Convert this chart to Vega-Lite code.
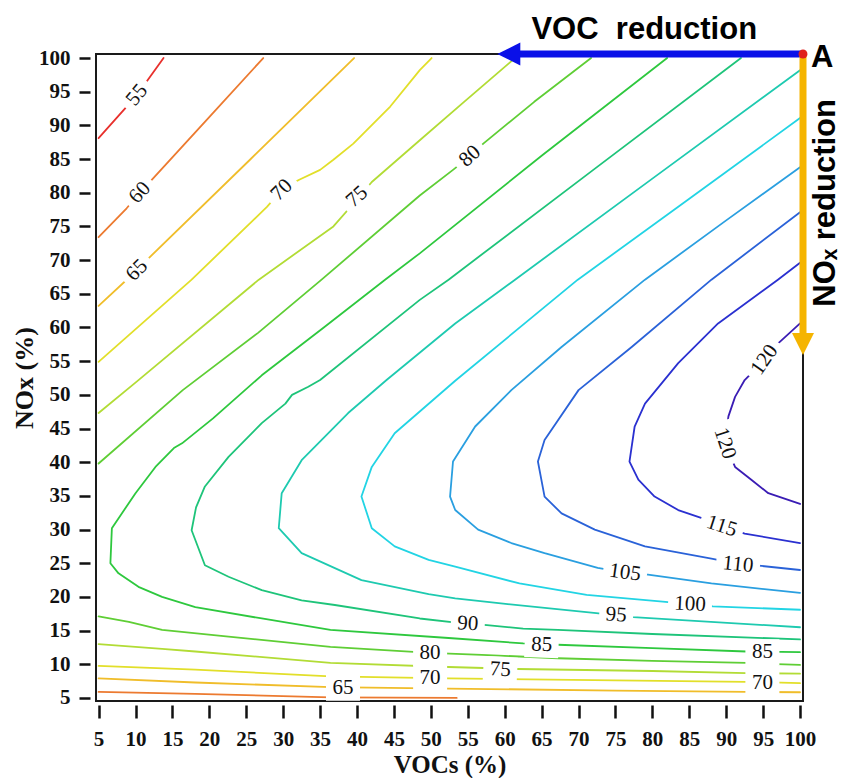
{
  "$schema": "https://vega.github.io/schema/vega-lite/v6.json",
  "width": 707,
  "height": 647,
  "autosize": {"type": "none"},
  "padding": {"left": 96, "top": 54, "right": 42, "bottom": 77},
  "background": "white",
  "config": {"view": {"stroke": "#1a1a1a", "strokeWidth": 2}, "font": "Liberation Serif"},
  "datasets": {
    "contours": [
      {"c":"55","v":55,"x":5,"y":88.1},{"c":"55","v":55,"x":7.6,"y":91.3},{"c":"55","v":55,"x":10.2,"y":94.5},{"c":"55","v":55,"x":13.8,"y":100},
      {"c":"60u","v":60,"x":5,"y":73.4},{"c":"60u","v":60,"x":8.8,"y":77.7},{"c":"60u","v":60,"x":10.6,"y":80.0},{"c":"60u","v":60,"x":12.2,"y":81.9},{"c":"60u","v":60,"x":19.8,"y":91.0},{"c":"60u","v":60,"x":27.3,"y":100},
      {"c":"65u","v":65,"x":5,"y":63.2},{"c":"65u","v":65,"x":10.2,"y":68.5},{"c":"65u","v":65,"x":11.8,"y":70.3},{"c":"65u","v":65,"x":25.5,"y":84.9},{"c":"65u","v":65,"x":39.6,"y":100},
      {"c":"70u","v":70,"x":5,"y":54.9},{"c":"70u","v":70,"x":17.6,"y":67.1},{"c":"70u","v":70,"x":27.8,"y":77.9},{"c":"70u","v":70,"x":29.8,"y":80.4},{"c":"70u","v":70,"x":32.1,"y":81.9},{"c":"70u","v":70,"x":35.0,"y":83.4},{"c":"70u","v":70,"x":36.8,"y":84.9},{"c":"70u","v":70,"x":39.5,"y":87.3},{"c":"70u","v":70,"x":44.5,"y":92.8},{"c":"70u","v":70,"x":48.5,"y":98.2},{"c":"70u","v":70,"x":50.1,"y":100},
      {"c":"75u","v":75,"x":5,"y":47.3},{"c":"75u","v":75,"x":10.2,"y":52.0},{"c":"75u","v":75,"x":26.7,"y":67.1},{"c":"75u","v":75,"x":36.8,"y":75.0},{"c":"75u","v":75,"x":40.0,"y":79.0},{"c":"75u","v":75,"x":42.0,"y":81.6},{"c":"75u","v":75,"x":48.5,"y":87.8},{"c":"75u","v":75,"x":54.5,"y":93.5},{"c":"75u","v":75,"x":61.4,"y":100},
      {"c":"80u","v":80,"x":5,"y":39.8},{"c":"80u","v":80,"x":16.4,"y":50.7},{"c":"80u","v":80,"x":26.6,"y":59.2},{"c":"80u","v":80,"x":35.2,"y":67.1},{"c":"80u","v":80,"x":48.5,"y":79.6},{"c":"80u","v":80,"x":53.0,"y":83.4},{"c":"80u","v":80,"x":55.3,"y":85.4},{"c":"80u","v":80,"x":57.1,"y":87.3},{"c":"80u","v":80,"x":64,"y":93.5},{"c":"80u","v":80,"x":71.7,"y":100},
      {"c":"85","v":85,"x":82,"y":100},{"c":"85","v":85,"x":65,"y":85.5},{"c":"85","v":85,"x":48.5,"y":71.0},{"c":"85","v":85,"x":43.8,"y":67.1},{"c":"85","v":85,"x":35.5,"y":60.0},{"c":"85","v":85,"x":27.1,"y":52.9},{"c":"85","v":85,"x":20.5,"y":46.5},{"c":"85","v":85,"x":16.3,"y":42.8},{"c":"85","v":85,"x":15.2,"y":42.1},{"c":"85","v":85,"x":12.7,"y":39.3},{"c":"85","v":85,"x":10.0,"y":35.4},{"c":"85","v":85,"x":6.8,"y":30.2},{"c":"85","v":85,"x":6.6,"y":25.0},{"c":"85","v":85,"x":7.7,"y":23.5},{"c":"85","v":85,"x":10.4,"y":21.5},{"c":"85","v":85,"x":13.6,"y":20.0},{"c":"85","v":85,"x":18.1,"y":18.5},{"c":"85","v":85,"x":27.1,"y":16.8},{"c":"85","v":85,"x":36.4,"y":15.1},{"c":"85","v":85,"x":52.4,"y":13.9},{"c":"85","v":85,"x":62.5,"y":13.1},{"c":"85","v":85,"x":67.2,"y":12.9},{"c":"85","v":85,"x":80,"y":12.4},{"c":"85","v":85,"x":92.7,"y":11.9},{"c":"85","v":85,"x":100,"y":11.8},
      {"c":"90","v":90,"x":92,"y":100},{"c":"90","v":90,"x":72,"y":83.4},{"c":"90","v":90,"x":52.4,"y":67.1},{"c":"90","v":90,"x":48.5,"y":64.1},{"c":"90","v":90,"x":35.0,"y":52.2},{"c":"90","v":90,"x":33.4,"y":51.2},{"c":"90","v":90,"x":31.2,"y":50.0},{"c":"90","v":90,"x":30.3,"y":48.7},{"c":"90","v":90,"x":27.1,"y":45.8},{"c":"90","v":90,"x":22.6,"y":40.8},{"c":"90","v":90,"x":19.4,"y":36.4},{"c":"90","v":90,"x":18.2,"y":33.3},{"c":"90","v":90,"x":17.6,"y":29.9},{"c":"90","v":90,"x":19.4,"y":24.7},{"c":"90","v":90,"x":22.6,"y":23.0},{"c":"90","v":90,"x":27.1,"y":21.0},{"c":"90","v":90,"x":32.5,"y":19.5},{"c":"90","v":90,"x":37.0,"y":18.8},{"c":"90","v":90,"x":48.5,"y":16.8},{"c":"90","v":90,"x":54,"y":16.1},{"c":"90","v":90,"x":57.6,"y":15.8},{"c":"90","v":90,"x":62.5,"y":15.3},{"c":"90","v":90,"x":67.2,"y":15.1},{"c":"90","v":90,"x":80,"y":14.5},{"c":"90","v":90,"x":100,"y":13.7},
      {"c":"95","v":95,"x":100,"y":98.2},{"c":"95","v":95,"x":80,"y":82.1},{"c":"95","v":95,"x":61.4,"y":67.1},{"c":"95","v":95,"x":53.3,"y":60.6},{"c":"95","v":95,"x":44,"y":52.2},{"c":"95","v":95,"x":38.8,"y":47.3},{"c":"95","v":95,"x":32.5,"y":40.3},{"c":"95","v":95,"x":29.8,"y":35.4},{"c":"95","v":95,"x":29.4,"y":30.2},{"c":"95","v":95,"x":32.5,"y":26.5},{"c":"95","v":95,"x":40.6,"y":22.5},{"c":"95","v":95,"x":49.7,"y":20.4},{"c":"95","v":95,"x":53.3,"y":19.8},{"c":"95","v":95,"x":59.8,"y":19.0},{"c":"95","v":95,"x":72.4,"y":17.6},{"c":"95","v":95,"x":77.4,"y":17.0},{"c":"95","v":95,"x":100,"y":15.5},
      {"c":"100","v":100,"x":100,"y":91.1},{"c":"100","v":100,"x":85,"y":79.1},{"c":"100","v":100,"x":69.9,"y":67.1},{"c":"100","v":100,"x":53.3,"y":52.1},{"c":"100","v":100,"x":45.1,"y":44.3},{"c":"100","v":100,"x":42.0,"y":39.3},{"c":"100","v":100,"x":40.6,"y":34.9},{"c":"100","v":100,"x":42.0,"y":30.2},{"c":"100","v":100,"x":45.1,"y":27.5},{"c":"100","v":100,"x":49.7,"y":25.5},{"c":"100","v":100,"x":53.3,"y":24.5},{"c":"100","v":100,"x":62.0,"y":22.0},{"c":"100","v":100,"x":71.1,"y":20.3},{"c":"100","v":100,"x":81.4,"y":19.3},{"c":"100","v":100,"x":88.2,"y":18.6},{"c":"100","v":100,"x":100,"y":18.1},
      {"c":"105","v":105,"x":100,"y":83.8},{"c":"105","v":105,"x":90,"y":75.9},{"c":"105","v":105,"x":79.0,"y":67.1},{"c":"105","v":105,"x":67.7,"y":57.1},{"c":"105","v":105,"x":60.9,"y":50.7},{"c":"105","v":105,"x":56.0,"y":45.3},{"c":"105","v":105,"x":53.0,"y":40.1},{"c":"105","v":105,"x":52.6,"y":34.9},{"c":"105","v":105,"x":53.3,"y":32.9},{"c":"105","v":105,"x":56.4,"y":30.0},{"c":"105","v":105,"x":60.9,"y":28.0},{"c":"105","v":105,"x":65.4,"y":26.5},{"c":"105","v":105,"x":72.6,"y":24.3},{"c":"105","v":105,"x":76.3,"y":23.6},{"c":"105","v":105,"x":79.4,"y":23.3},{"c":"105","v":105,"x":88.0,"y":22.0},{"c":"105","v":105,"x":100,"y":20.6},
      {"c":"110","v":110,"x":100,"y":77.1},{"c":"110","v":110,"x":88.0,"y":67.1},{"c":"110","v":110,"x":77.2,"y":57.1},{"c":"110","v":110,"x":70.0,"y":50.7},{"c":"110","v":110,"x":65.4,"y":43.3},{"c":"110","v":110,"x":64.5,"y":40.1},{"c":"110","v":110,"x":65.4,"y":34.9},{"c":"110","v":110,"x":67.7,"y":32.4},{"c":"110","v":110,"x":72.2,"y":30.0},{"c":"110","v":110,"x":79.0,"y":27.5},{"c":"110","v":110,"x":88.0,"y":25.7},{"c":"110","v":110,"x":91.6,"y":24.9},{"c":"110","v":110,"x":94.8,"y":24.6},{"c":"110","v":110,"x":100,"y":24.0},
      {"c":"115","v":115,"x":100,"y":69.6},{"c":"115","v":115,"x":97.0,"y":67.1},{"c":"115","v":115,"x":88.9,"y":60.6},{"c":"115","v":115,"x":83.5,"y":54.7},{"c":"115","v":115,"x":79.0,"y":48.7},{"c":"115","v":115,"x":77.6,"y":45.3},{"c":"115","v":115,"x":76.9,"y":40.1},{"c":"115","v":115,"x":78.1,"y":37.4},{"c":"115","v":115,"x":80.3,"y":34.9},{"c":"115","v":115,"x":83.5,"y":32.9},{"c":"115","v":115,"x":86.7,"y":31.7},{"c":"115","v":115,"x":89.4,"y":30.6},{"c":"115","v":115,"x":92.5,"y":29.4},{"c":"115","v":115,"x":100,"y":28.0},
      {"c":"120","v":120,"x":100,"y":60.6},{"c":"120","v":120,"x":97.0,"y":57.6},{"c":"120","v":120,"x":95.2,"y":55.2},{"c":"120","v":120,"x":92.5,"y":52.2},{"c":"120","v":120,"x":91.2,"y":49.7},{"c":"120","v":120,"x":90.3,"y":46.8},{"c":"120","v":120,"x":89.8,"y":42.8},{"c":"120","v":120,"x":91.2,"y":39.3},{"c":"120","v":120,"x":93.4,"y":37.4},{"c":"120","v":120,"x":95.7,"y":35.4},{"c":"120","v":120,"x":100,"y":33.8},
      {"c":"80l","v":80,"x":5,"y":17.1},{"c":"80l","v":80,"x":9.1,"y":16.3},{"c":"80l","v":80,"x":13.6,"y":15.1},{"c":"80l","v":80,"x":22.6,"y":14.1},{"c":"80l","v":80,"x":36.4,"y":12.6},{"c":"80l","v":80,"x":49.9,"y":11.7},{"c":"80l","v":80,"x":56.9,"y":11.4},{"c":"80l","v":80,"x":67.2,"y":10.9},{"c":"80l","v":80,"x":80,"y":10.5},{"c":"80l","v":80,"x":92.7,"y":10.2},{"c":"80l","v":80,"x":100,"y":9.9},
      {"c":"75l","v":75,"x":5,"y":13.0},{"c":"75l","v":75,"x":13.6,"y":12.3},{"c":"75l","v":75,"x":18.1,"y":11.9},{"c":"75l","v":75,"x":36.4,"y":10.2},{"c":"75l","v":75,"x":52.4,"y":9.6},{"c":"75l","v":75,"x":61.8,"y":9.3},{"c":"75l","v":75,"x":80,"y":9.0},{"c":"75l","v":75,"x":92.7,"y":8.7},{"c":"75l","v":75,"x":100,"y":8.6},
      {"c":"70l","v":70,"x":5,"y":9.75},{"c":"70l","v":70,"x":18.1,"y":9.2},{"c":"70l","v":70,"x":36.4,"y":8.2},{"c":"70l","v":70,"x":52.4,"y":7.9},{"c":"70l","v":70,"x":75,"y":7.6},{"c":"70l","v":70,"x":92.7,"y":7.4},{"c":"70l","v":70,"x":100,"y":7.2},
      {"c":"65l","v":65,"x":5,"y":7.9},{"c":"65l","v":65,"x":18.1,"y":7.3},{"c":"65l","v":65,"x":36.4,"y":6.6},{"c":"65l","v":65,"x":52.4,"y":6.4},{"c":"65l","v":65,"x":75,"y":6.1},{"c":"65l","v":65,"x":92.7,"y":5.9},{"c":"65l","v":65,"x":100,"y":5.85},
      {"c":"60l","v":60,"x":5,"y":5.9},{"c":"60l","v":60,"x":18.1,"y":5.6},{"c":"60l","v":60,"x":36.4,"y":5.1},{"c":"60l","v":60,"x":53.5,"y":5.0}
    ],
    "labels": [
      {"t":"55","x":10.2,"y":94.5,"a":-51},
      {"t":"60","x":10.6,"y":80.0,"a":-48},
      {"t":"65","x":10.2,"y":68.5,"a":-45},
      {"t":"70","x":29.8,"y":80.4,"a":-45},
      {"t":"75","x":40.0,"y":79.4,"a":-42},
      {"t":"80","x":55.3,"y":85.4,"a":-42},
      {"t":"65","x":38.1,"y":6.5,"a":0},
      {"t":"70","x":49.9,"y":8.0,"a":0},
      {"t":"80","x":49.9,"y":11.7,"a":0},
      {"t":"75","x":59.4,"y":9.2,"a":3},
      {"t":"85","x":65.0,"y":12.9,"a":2},
      {"t":"90","x":55.0,"y":16.0,"a":3},
      {"t":"95","x":75.1,"y":17.3,"a":4},
      {"t":"100","x":85.1,"y":18.9,"a":3},
      {"t":"105","x":76.3,"y":23.6,"a":8},
      {"t":"110","x":91.6,"y":24.8,"a":6},
      {"t":"115","x":89.4,"y":30.5,"a":18},
      {"t":"120","x":95.2,"y":55.2,"a":-55},
      {"t":"120","x":89.8,"y":42.8,"a":72},
      {"t":"85","x":94.9,"y":11.8,"a":0},
      {"t":"70","x":94.9,"y":7.2,"a":0}
    ],
    "arrows": [
      {"k":"voc","x":100.4,"y":100.6,"x2":61.5,"y2":100.6},
      {"k":"nox","x":100.4,"y":100.6,"x2":100.4,"y2":58.5}
    ],
    "heads": [
      {"k":"voc","x":59.0,"y":100.6},
      {"k":"nox","x":100.4,"y":55.9}
    ],
    "corner": [{"x":100.4,"y":100.6}],
    "notes": [
      {"t":"VOC\u00a0 reduction","x":78.9,"y":102.8,"a":0},
      {"t":"A","x":103.0,"y":98.7,"a":0},
      {"t":"NO\u2093 reduction","x":104.7,"y":78.5,"a":-90}
    ]
  },
  "encoding": {
    "x": {
      "field": "x", "type": "quantitative",
      "scale": {"domain": [4.65, 100.4], "nice": false, "zero": false},
      "axis": {
        "values": [5,10,15,20,25,30,35,40,45,50,55,60,65,70,75,80,85,90,95,100],
        "title": "VOCs (%)", "domain": false, "grid": false, "offset": 4,
        "tickSize": 13, "tickWidth": 2.5, "tickColor": "#111",
        "labelFont": "Liberation Serif", "labelFontWeight": "bold", "labelFontSize": 21,
        "labelColor": "#111", "labelPadding": 10, "labelOverlap": false, "labelFlush": false,
        "titleFont": "Liberation Serif", "titleFontWeight": "bold", "titleFontSize": 25,
        "titleColor": "#111", "titlePadding": 3
      }
    },
    "y": {
      "field": "y", "type": "quantitative",
      "scale": {"domain": [4.55, 100.6], "nice": false, "zero": false},
      "axis": {
        "values": [5,10,15,20,25,30,35,40,45,50,55,60,65,70,75,80,85,90,95,100],
        "title": "NOx (%)", "domain": false, "grid": false, "offset": 6,
        "tickSize": 11, "tickWidth": 2.5, "tickColor": "#111",
        "labelFont": "Liberation Serif", "labelFontWeight": "bold", "labelFontSize": 21,
        "labelColor": "#111", "labelPadding": 9, "labelOverlap": false, "labelFlush": false,
        "titleFont": "Liberation Serif", "titleFontWeight": "bold", "titleFontSize": 26,
        "titleColor": "#111", "titlePadding": 1
      }
    }
  },
  "layer": [
    {
      "data": {"name": "contours"},
      "mark": {"type": "line", "strokeWidth": 1.8, "strokeJoin": "round", "strokeCap": "round"},
      "encoding": {
        "color": {
          "field": "v", "type": "ordinal", "legend": null,
          "scale": {
            "domain": [55,60,65,70,75,80,85,90,95,100,105,110,115,120],
            "range": ["#e8302c","#ec7a30","#f0bd2a","#e2df2a","#b2dc35","#5fce35","#2ec83e","#1ec47a","#1ecab0","#22d4e4","#2a9fe0","#2a62d8","#2a30d0","#3a1cb4"]
          }
        },
        "detail": {"field": "c"},
        "order": {"value": null}
      }
    },
    {
      "data": {"name": "labels"},
      "mark": {"type": "point", "filled": true, "color": "white", "opacity": 1, "strokeWidth": 0},
      "encoding": {
        "shape": {"condition": {"test": "length(datum.t) > 2", "value": "M-1,-0.6L1,-0.6L1,0.6L-1,0.6Z"}, "value": "M-1,-0.76L1,-0.76L1,0.76L-1,0.76Z"},
        "size": {"condition": {"test": "length(datum.t) > 2", "value": 1936}, "value": 1156},
        "angle": {"field": "a", "type": "quantitative", "scale": null}
      }
    },
    {
      "data": {"name": "labels"},
      "mark": {"type": "text", "font": "Liberation Serif", "fontSize": 21, "color": "#111", "align": "center", "baseline": "middle"},
      "encoding": {
        "text": {"field": "t"},
        "angle": {"field": "a", "type": "quantitative", "scale": null}
      }
    },
    {
      "data": {"name": "arrows"},
      "transform": [{"filter": "datum.k == 'voc'"}],
      "mark": {"type": "rule", "color": "#0a10e8", "strokeWidth": 7},
      "encoding": {"x2": {"field": "x2"}, "y2": {"field": "y2"}}
    },
    {
      "data": {"name": "heads"},
      "transform": [{"filter": "datum.k == 'voc'"}],
      "mark": {"type": "point", "filled": true, "color": "#0a10e8", "opacity": 1, "shape": "M0,0L2,-1L2,1Z", "size": 529, "strokeWidth": 0}
    },
    {
      "data": {"name": "arrows"},
      "transform": [{"filter": "datum.k == 'nox'"}],
      "mark": {"type": "rule", "color": "#f5b400", "strokeWidth": 7},
      "encoding": {"x2": {"field": "x2"}, "y2": {"field": "y2"}}
    },
    {
      "data": {"name": "heads"},
      "transform": [{"filter": "datum.k == 'nox'"}],
      "mark": {"type": "point", "filled": true, "color": "#f5b400", "opacity": 1, "shape": "M0,0L-1,-2L1,-2Z", "size": 484, "strokeWidth": 0}
    },
    {
      "data": {"name": "corner"},
      "mark": {"type": "point", "filled": true, "color": "#e0201c", "opacity": 1, "size": 80, "strokeWidth": 0}
    },
    {
      "data": {"name": "notes"},
      "mark": {"type": "text", "font": "Liberation Sans", "fontWeight": "bold", "fontSize": 31, "color": "#000", "align": "center", "baseline": "alphabetic"},
      "encoding": {
        "text": {"field": "t"},
        "angle": {"field": "a", "type": "quantitative", "scale": null}
      }
    }
  ]
}
